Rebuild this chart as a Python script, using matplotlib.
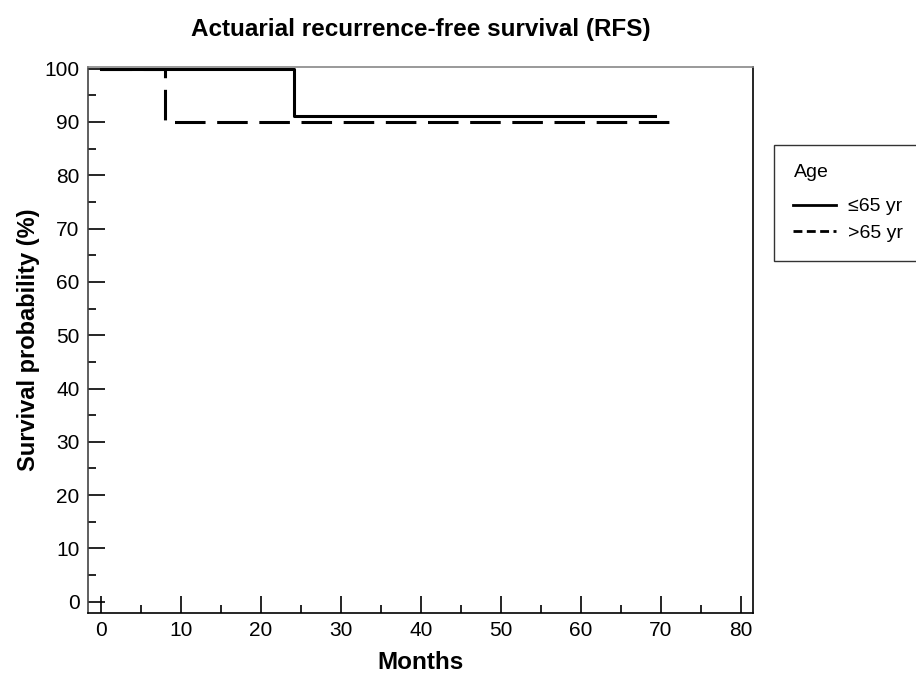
import numpy as np
import matplotlib.pyplot as plt
from matplotlib.lines import Line2D
from matplotlib.ticker import MultipleLocator

plt.rcParams['font.family'] = ['Liberation Sans', 'DejaVu Sans']

# step data (months, survival %)
young_t = [0, 24.2, 24.2, 69.2]
young_s = [100, 100, 91.2, 91.2]
old_t = [0, 8, 8, 72.2]
old_s = [100, 100, 89.9, 89.9]
group_labels = ['\u226465 yr', '>65 yr']

fig = plt.figure(figsize=(9.16, 6.73), dpi=100)
ax = fig.add_axes([0.0961, 0.0892, 0.7260, 0.8112])

ax.plot(young_t, young_s, color='black', lw=2.2)
ax.plot(old_t, old_s, color='black', lw=2.2, linestyle=(0, (10, 3.8)))

ax.set_xlim(-1.6, 81.5)
ax.set_ylim(-2.1, 100.3)
ax.xaxis.set_major_locator(MultipleLocator(10))
ax.xaxis.set_minor_locator(MultipleLocator(5))
ax.yaxis.set_major_locator(MultipleLocator(10))
ax.yaxis.set_minor_locator(MultipleLocator(5))
ax.tick_params(which='major', direction='in', length=12, width=1.2, labelsize=15,
               top=False, right=False, pad=6)
ax.tick_params(which='minor', direction='in', length=6, width=1.2, top=False, right=False)

for side in ['left', 'bottom', 'top', 'right']:
    ax.spines[side].set_linewidth(1.2)
ax.spines['left'].set_color('#444444')
ax.spines['top'].set_color('#888888')

ax.set_title('Actuarial recurrence-free survival (RFS)', fontsize=17.5, fontweight='bold', pad=22)
ax.set_xlabel('Months', fontsize=17.5, fontweight='bold', labelpad=8)
ax.set_ylabel('Survival probability (%)', fontsize=17, fontweight='bold', labelpad=3)

# legend uses shorter dashes than the curve, as in the original
handles = [Line2D([], [], color='black', lw=2),
           Line2D([], [], color='black', lw=2, linestyle=(0, (3.2, 1.6)))]
leg = fig.legend(handles, group_labels, loc='upper left', bbox_to_anchor=(0.845, 0.785),
                 title='Age', fontsize=14, title_fontsize=14, frameon=True, fancybox=False,
                 edgecolor='black', handlelength=2.2, borderpad=1.0, labelspacing=0.45,
                 handletextpad=0.6, alignment='left', borderaxespad=0)
leg.get_frame().set_linewidth(1.0)
leg._legend_box.sep = 12

fig.savefig('out.png', dpi=100)
